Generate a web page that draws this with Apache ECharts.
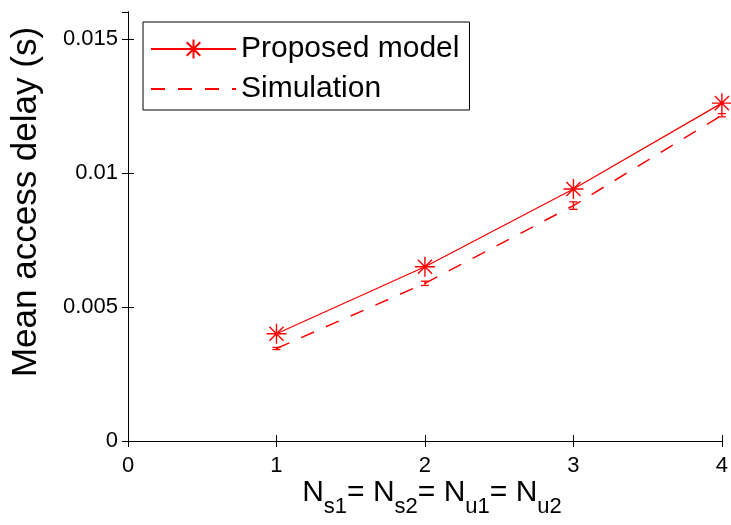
<!DOCTYPE html>
<html>
<head>
<meta charset="utf-8">
<script src="https://cdn.jsdelivr.net/npm/echarts@6/dist/echarts.min.js"></script>
<style>html,body{margin:0;padding:0;background:#fff;}#c{width:731px;height:525px;}</style>
</head>
<body>
<div id="c"></div>
<script>
const xValues = [1, 2, 3, 4];
const proposed = [0.0040, 0.0065, 0.0094, 0.0126];
const simulation = [0.00345, 0.00588, 0.00878, 0.01215];
const simErr = [0.00004, 0.00008, 0.00014, 0.00006];
const seriesNames = ['Proposed model', 'Simulation'];
const yTitle = 'Mean access delay (s)';

const FONT = '"Liberation Sans", Arial, Helvetica, sans-serif';
const RED = '#ff0000';
const asterisk = 'path://M0 10 L20 10 M10 0 L10 20 M2.93 2.93 L17.07 17.07 M17.07 2.93 L2.93 17.07';

const chart = echarts.init(document.getElementById('c'), null, {renderer: 'canvas'});
const tickStyle = {show: true, inside: true, length: 6, lineStyle: {color: '#000', width: 1}};
const lineAx = {show: true, lineStyle: {color: '#000', width: 1}};

chart.setOption({
  animation: false,
  backgroundColor: '#fff',
  grid: {left: 128, right: 8, top: 12, bottom: 84, containLabel: false},
  legend: {
    orient: 'vertical', left: 143, top: 22,
    data: [{name: seriesNames[0]}, {name: seriesNames[1], itemStyle: {opacity: 0}}],
    backgroundColor: '#fff',
    borderColor: '#000', borderWidth: 1, borderRadius: 0,
    padding: [11, 10, 5, 7],
    itemWidth: 85, itemHeight: 24, itemGap: 8,
    textStyle: {fontFamily: FONT, fontSize: 30, color: '#000', lineHeight: 32, width: 217}
  },
  xAxis: [
    {type: 'value', min: 0, max: 4, interval: 1, position: 'bottom',
     axisLine: lineAx, axisTick: tickStyle, splitLine: {show: false},
     axisLabel: {fontFamily: FONT, fontSize: 22, color: '#000', margin: 14}},
    {type: 'value', min: 0, max: 4, interval: 1, position: 'top',
     axisLine: lineAx, axisTick: tickStyle, splitLine: {show: false}, axisLabel: {show: false}}
  ],
  yAxis: [
    {type: 'value', min: 0, max: 0.016, interval: 0.005, position: 'left',
     axisLine: lineAx, axisTick: tickStyle, splitLine: {show: false},
     axisLabel: {fontFamily: FONT, fontSize: 22, color: '#000', margin: 10, showMaxLabel: false,
       formatter: v => String(+v.toFixed(4))}},
    {type: 'value', min: 0, max: 0.016, interval: 0.005, position: 'right',
     axisLine: lineAx, axisTick: tickStyle, splitLine: {show: false}, axisLabel: {show: false}}
  ],
  graphic: [
    {type: 'text', x: 26, y: 202, rotation: Math.PI / 2,
     style: {text: yTitle, font: '35px ' + FONT, fill: '#000', align: 'center', verticalAlign: 'middle'}},
    {type: 'text', x: 432, y: 498,
     style: {
       text: '{N|N}{s|s1}{e|= N}{s|s2}{e|= N}{s|u1}{e|= N}{s|u2}',
       align: 'center', verticalAlign: 'middle', fill: '#000',
       rich: {
         N: {fontFamily: FONT, fontSize: 30, verticalAlign: 'top', fill: '#000'},
         e: {fontFamily: FONT, fontSize: 30, verticalAlign: 'top', fill: '#000'},
         s: {fontFamily: FONT, fontSize: 22, verticalAlign: 'bottom', padding: [18, 0, 0, 0], fill: '#000'}
       }
     }}
  ],
  series: [
    {
      name: seriesNames[0], type: 'line',
      data: xValues.map((x, i) => [x, proposed[i]]),
      symbol: asterisk, symbolSize: 20, showSymbol: true,
      itemStyle: {color: RED, borderColor: RED, borderWidth: 1.4},
      lineStyle: {color: RED, width: 1.3, type: 'solid'},
      z: 3
    },
    {
      name: seriesNames[1], type: 'line',
      data: xValues.map((x, i) => [x, simulation[i]]),
      symbol: 'none',
      itemStyle: {color: RED},
      lineStyle: {color: RED, width: 1.5, type: [14, 13]},
      z: 2
    },
    {
      name: 'err', type: 'custom',
      data: xValues.map((x, i) => [x, simulation[i] - simErr[i], simulation[i] + simErr[i]]),
      renderItem: function (params, api) {
        const lo = api.coord([api.value(0), api.value(1)]);
        const hi = api.coord([api.value(0), api.value(2)]);
        const w = 4;
        const st = {stroke: RED, lineWidth: 1.3, fill: null};
        return {type: 'group', children: [
          {type: 'line', shape: {x1: lo[0], y1: lo[1], x2: hi[0], y2: hi[1]}, style: st},
          {type: 'line', shape: {x1: lo[0] - w, y1: lo[1], x2: lo[0] + w, y2: lo[1]}, style: st},
          {type: 'line', shape: {x1: hi[0] - w, y1: hi[1], x2: hi[0] + w, y2: hi[1]}, style: st}
        ]};
      },
      z: 2
    }
  ]
});
</script>
</body>
</html>
